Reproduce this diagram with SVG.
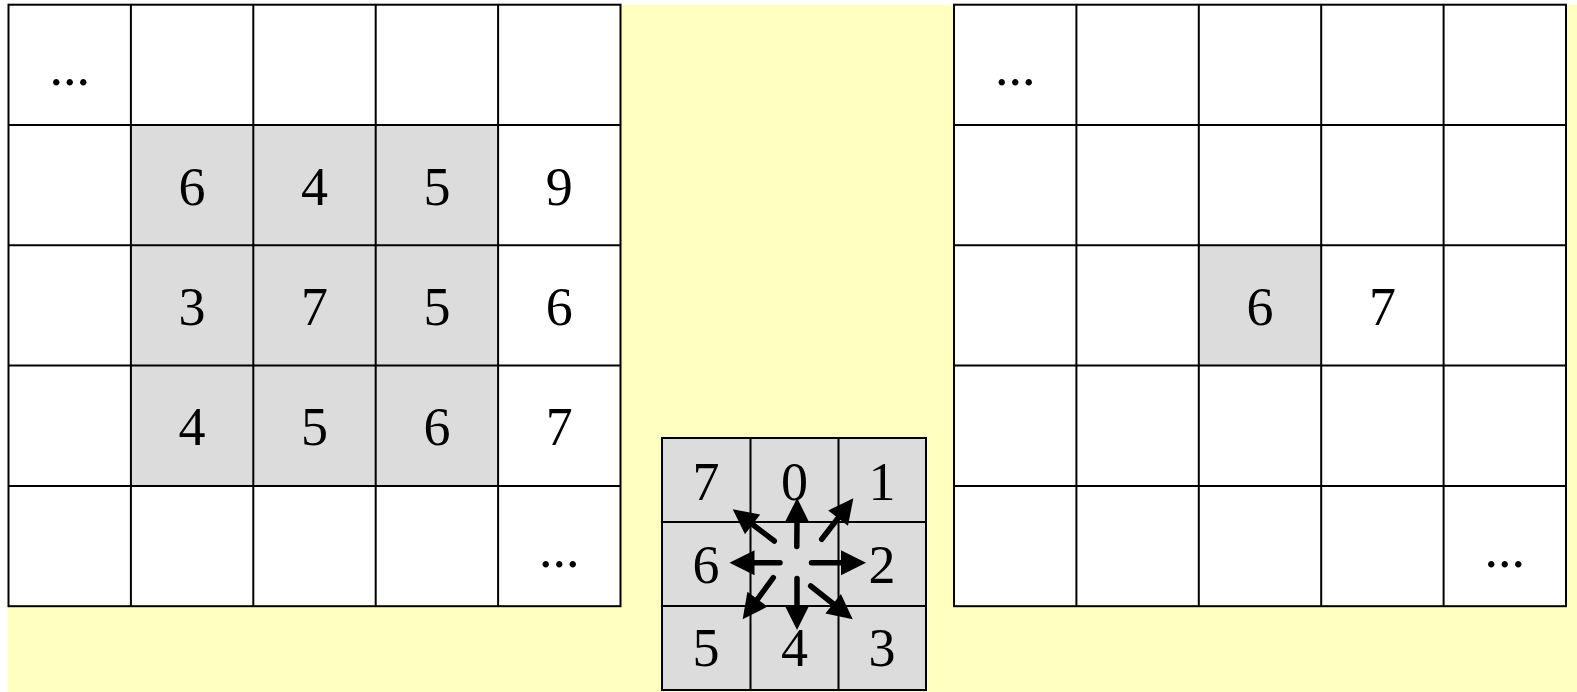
<svg xmlns="http://www.w3.org/2000/svg" width="1577" height="692" viewBox="0 0 1577 692">
<style>
.c{stroke:#000;stroke-width:2;fill:#fff}
.g{fill:#dcdcdc}
.t{font-family:"Liberation Serif","Times New Roman",serif;font-size:54px;fill:#000;text-anchor:middle}
.a{stroke:#000;stroke-width:5.5;stroke-linecap:round;fill:none;marker-end:url(#ah)}
</style>
<defs>
<marker id="ah" markerUnits="userSpaceOnUse" markerWidth="26" markerHeight="26" viewBox="0 -13 26 26" refX="2" refY="0" orient="auto" overflow="visible">
<path d="M0,-12.5 L25,0 L0,12.5 z" fill="#000"/>
</marker>
</defs>
<rect x="0" y="0" width="1577" height="692" fill="#fff"/>
<rect x="8" y="5" width="1569" height="687" fill="#ffffc0"/>

<g id="left-grid">
<rect class="c" x="8.5" y="4.7" width="612" height="601.5"/>
<rect class="g" x="130.9" y="125" width="367.2" height="360.9"/>
<g stroke="#000" stroke-width="2">
<line x1="130.9" y1="4.7" x2="130.9" y2="606.2"/>
<line x1="253.3" y1="4.7" x2="253.3" y2="606.2"/>
<line x1="375.7" y1="4.7" x2="375.7" y2="606.2"/>
<line x1="498.1" y1="4.7" x2="498.1" y2="606.2"/>
<line x1="8.5" y1="125" x2="620.5" y2="125"/>
<line x1="8.5" y1="245.3" x2="620.5" y2="245.3"/>
<line x1="8.5" y1="365.6" x2="620.5" y2="365.6"/>
<line x1="8.5" y1="485.9" x2="620.5" y2="485.9"/>
</g>
<text class="t" x="69.7" y="85">...</text>
<text class="t" x="192.1" y="204.5">6</text>
<text class="t" x="314.5" y="204.5">4</text>
<text class="t" x="436.9" y="204.5">5</text>
<text class="t" x="559.3" y="204.5">9</text>
<text class="t" x="192.1" y="325">3</text>
<text class="t" x="314.5" y="325">7</text>
<text class="t" x="436.9" y="325">5</text>
<text class="t" x="559.3" y="325">6</text>
<text class="t" x="192.1" y="445">4</text>
<text class="t" x="314.5" y="445">5</text>
<text class="t" x="436.9" y="445">6</text>
<text class="t" x="559.3" y="445">7</text>
<text class="t" x="559.3" y="567">...</text>
</g>

<g id="right-grid">
<rect class="c" x="954" y="4.7" width="612" height="601.5"/>
<rect class="g" x="1198.8" y="245.3" width="122.4" height="120.3"/>
<g stroke="#000" stroke-width="2">
<line x1="1076.4" y1="4.7" x2="1076.4" y2="606.2"/>
<line x1="1198.8" y1="4.7" x2="1198.8" y2="606.2"/>
<line x1="1321.2" y1="4.7" x2="1321.2" y2="606.2"/>
<line x1="1443.6" y1="4.7" x2="1443.6" y2="606.2"/>
<line x1="954" y1="125" x2="1566" y2="125"/>
<line x1="954" y1="245.3" x2="1566" y2="245.3"/>
<line x1="954" y1="365.6" x2="1566" y2="365.6"/>
<line x1="954" y1="485.9" x2="1566" y2="485.9"/>
</g>
<text class="t" x="1015.2" y="85">...</text>
<text class="t" x="1260" y="325">6</text>
<text class="t" x="1382.4" y="325">7</text>
<text class="t" x="1504.8" y="567">...</text>
</g>

<g id="neighbour-grid">
<rect x="662" y="438" width="264" height="252" fill="#dcdcdc" stroke="#000" stroke-width="2"/>
<g stroke="#000" stroke-width="2">
<line x1="750.5" y1="438" x2="750.5" y2="690"/>
<line x1="838.5" y1="438" x2="838.5" y2="690"/>
<line x1="662" y1="522" x2="926" y2="522"/>
<line x1="662" y1="606" x2="926" y2="606"/>
</g>
<text class="t" x="706" y="500">7</text>
<text class="t" x="794.5" y="500">0</text>
<text class="t" x="882" y="500">1</text>
<text class="t" x="706" y="583">6</text>
<text class="t" x="882" y="583">2</text>
<text class="t" x="706" y="666">5</text>
<text class="t" x="794.5" y="666">4</text>
<text class="t" x="882" y="666">3</text>
</g>

<g id="connectors">
<line class="a" x1="796.8" y1="546.5" x2="797" y2="521"/>
<line class="a" x1="821.7" y1="539.3" x2="839.3" y2="516.5"/>
<line class="a" x1="811.5" y1="562.7" x2="843" y2="562.7"/>
<line class="a" x1="810.7" y1="586" x2="834.7" y2="605"/>
<line class="a" x1="797" y1="578.5" x2="797" y2="607"/>
<line class="a" x1="773.3" y1="577.7" x2="756.3" y2="600.8"/>
<line class="a" x1="780" y1="562.7" x2="752.5" y2="562.7"/>
<line class="a" x1="774.3" y1="541" x2="751" y2="523.2"/>
</g>
</svg>
